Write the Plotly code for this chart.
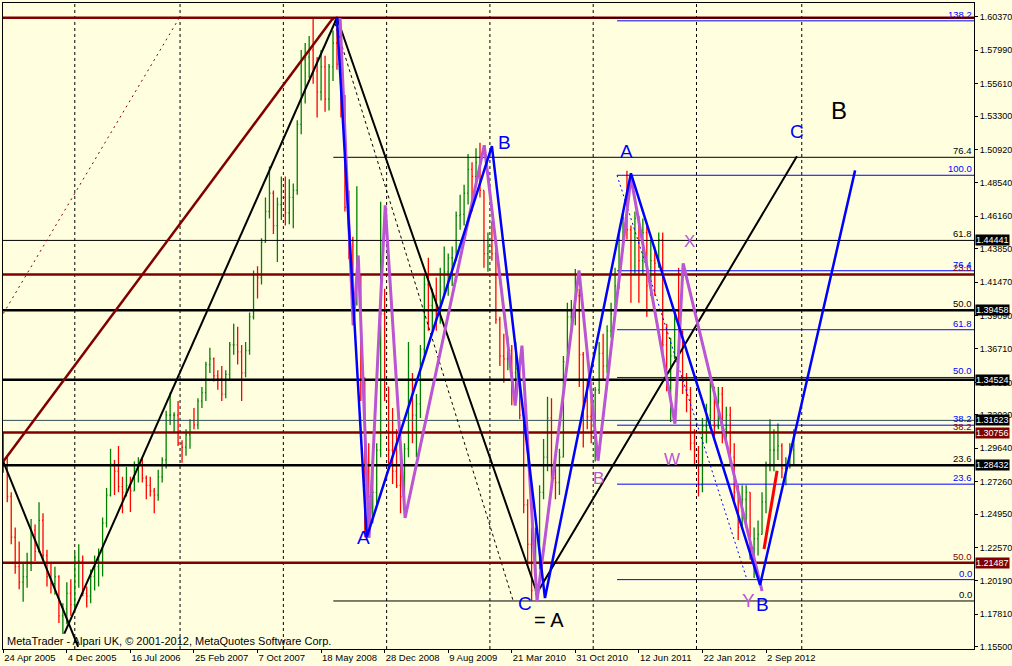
import plotly.graph_objects as go
import pandas as pd

# ---------------- price bars (EURUSD, two-week bars) ----------------
start_date = "2005-04-24"
bar_step = "14D"
first_open = 1.300
bar_high = [
    # 2005
    1.308, 1.290, 1.265, 1.240, 1.230, 1.215, 1.222, 1.246, 1.242, 1.258, 1.250, 1.224, 1.214, 1.212, 1.206, 1.186, 1.201, 1.203,
    # 2006
    1.222, 1.228, 1.220, 1.198, 1.210, 1.220, 1.225, 1.247, 1.268, 1.296, 1.288, 1.298, 1.276, 1.283, 1.276, 1.287, 1.290, 1.290, 1.277, 1.276, 1.268, 1.281, 1.290, 1.323, 1.336, 1.322,
    # 2007
    1.330, 1.302, 1.310, 1.317, 1.325, 1.332, 1.340, 1.358, 1.368, 1.361, 1.352, 1.355, 1.352, 1.372, 1.385, 1.383, 1.370, 1.372, 1.393, 1.423, 1.426, 1.446, 1.475, 1.497, 1.480, 1.475,
    # 2008
    1.490, 1.490, 1.488, 1.485, 1.530, 1.580, 1.585, 1.590, 1.603, 1.575, 1.580, 1.576, 1.570, 1.594, 1.604, 1.578, 1.548, 1.480, 1.447, 1.483, 1.420, 1.347, 1.300, 1.283, 1.300, 1.472,
    # 2009
    1.410, 1.340, 1.325, 1.310, 1.290, 1.300, 1.372, 1.350, 1.335, 1.370, 1.420, 1.432, 1.410, 1.418, 1.425, 1.440, 1.435, 1.440, 1.465, 1.477, 1.484, 1.506, 1.500, 1.510, 1.514, 1.480,
    # 2010
    1.450, 1.458, 1.440, 1.390, 1.378, 1.376, 1.370, 1.372, 1.355, 1.325, 1.260, 1.240, 1.240, 1.270, 1.303, 1.333, 1.332, 1.290, 1.296, 1.362, 1.400, 1.402, 1.424, 1.410, 1.365, 1.345,
    # 2011
    1.340, 1.340, 1.372, 1.378, 1.384, 1.400, 1.425, 1.450, 1.465, 1.494, 1.455, 1.465, 1.462, 1.460, 1.455, 1.445, 1.440, 1.450, 1.450, 1.385, 1.375, 1.395, 1.425, 1.380, 1.350, 1.340,
    # 2012
    1.310, 1.298, 1.318, 1.328, 1.345, 1.340, 1.340, 1.340, 1.326, 1.326, 1.300, 1.270, 1.270, 1.270, 1.265, 1.240, 1.245, 1.265, 1.287, 1.317, 1.310, 1.314, 1.300, 1.290, 1.300, 1.310,
]
bar_low = [
    1.279, 1.258, 1.228, 1.207, 1.196, 1.187, 1.197, 1.209, 1.216, 1.222, 1.216, 1.198, 1.193, 1.192, 1.172, 1.164, 1.171, 1.177,
    1.181, 1.197, 1.191, 1.183, 1.186, 1.195, 1.198, 1.205, 1.240, 1.262, 1.263, 1.265, 1.250, 1.262, 1.251, 1.266, 1.272, 1.272, 1.260, 1.262, 1.250, 1.259, 1.272, 1.282, 1.313, 1.308,
    1.298, 1.286, 1.291, 1.296, 1.310, 1.310, 1.325, 1.330, 1.350, 1.344, 1.338, 1.330, 1.332, 1.345, 1.363, 1.356, 1.330, 1.347, 1.363, 1.388, 1.403, 1.413, 1.443, 1.460, 1.449, 1.429,
    1.459, 1.455, 1.456, 1.453, 1.477, 1.520, 1.542, 1.560, 1.556, 1.532, 1.544, 1.536, 1.537, 1.558, 1.566, 1.532, 1.465, 1.431, 1.390, 1.398, 1.330, 1.233, 1.245, 1.243, 1.256, 1.290,
    1.330, 1.285, 1.271, 1.268, 1.250, 1.256, 1.290, 1.300, 1.290, 1.318, 1.360, 1.380, 1.380, 1.380, 1.385, 1.406, 1.405, 1.412, 1.430, 1.452, 1.455, 1.470, 1.465, 1.485, 1.475, 1.425,
    1.422, 1.430, 1.385, 1.355, 1.343, 1.352, 1.327, 1.331, 1.317, 1.250, 1.213, 1.188, 1.192, 1.210, 1.260, 1.280, 1.270, 1.260, 1.263, 1.290, 1.355, 1.375, 1.384, 1.340, 1.297, 1.310,
    1.300, 1.287, 1.335, 1.345, 1.350, 1.375, 1.390, 1.410, 1.437, 1.445, 1.400, 1.420, 1.400, 1.420, 1.390, 1.405, 1.405, 1.425, 1.360, 1.337, 1.315, 1.360, 1.365, 1.335, 1.322, 1.295,
    1.285, 1.262, 1.265, 1.300, 1.310, 1.305, 1.310, 1.300, 1.300, 1.285, 1.258, 1.231, 1.240, 1.240, 1.217, 1.204, 1.220, 1.235, 1.250, 1.280, 1.280, 1.288, 1.275, 1.270, 1.282, 1.285,
]
bar_close = [
    1.284, 1.262, 1.233, 1.212, 1.201, 1.205, 1.214, 1.238, 1.223, 1.245, 1.220, 1.205, 1.200, 1.205, 1.177, 1.182, 1.193, 1.185,
    1.216, 1.216, 1.193, 1.191, 1.205, 1.212, 1.222, 1.243, 1.263, 1.285, 1.280, 1.269, 1.265, 1.270, 1.266, 1.282, 1.288, 1.275, 1.270, 1.266, 1.263, 1.276, 1.288, 1.320, 1.320, 1.320,
    1.300, 1.297, 1.306, 1.316, 1.313, 1.330, 1.336, 1.356, 1.360, 1.348, 1.346, 1.335, 1.349, 1.370, 1.370, 1.365, 1.350, 1.366, 1.390, 1.420, 1.418, 1.443, 1.465, 1.478, 1.455, 1.470,
    1.475, 1.464, 1.475, 1.480, 1.527, 1.573, 1.575, 1.580, 1.565, 1.550, 1.568, 1.545, 1.568, 1.585, 1.570, 1.545, 1.468, 1.445, 1.400, 1.420, 1.345, 1.270, 1.262, 1.265, 1.295, 1.392,
    1.340, 1.295, 1.280, 1.270, 1.262, 1.296, 1.330, 1.320, 1.328, 1.367, 1.413, 1.398, 1.405, 1.392, 1.420, 1.422, 1.432, 1.432, 1.462, 1.463, 1.478, 1.495, 1.490, 1.500, 1.480, 1.435,
    1.440, 1.435, 1.388, 1.362, 1.360, 1.366, 1.350, 1.353, 1.320, 1.256, 1.228, 1.195, 1.235, 1.265, 1.290, 1.318, 1.275, 1.272, 1.290, 1.358, 1.390, 1.390, 1.405, 1.363, 1.330, 1.319,
    1.305, 1.338, 1.364, 1.355, 1.380, 1.392, 1.412, 1.445, 1.460, 1.452, 1.420, 1.460, 1.430, 1.450, 1.412, 1.430, 1.428, 1.445, 1.370, 1.350, 1.362, 1.388, 1.380, 1.340, 1.338, 1.300,
    1.295, 1.270, 1.312, 1.320, 1.340, 1.312, 1.335, 1.310, 1.320, 1.290, 1.265, 1.240, 1.260, 1.265, 1.225, 1.232, 1.235, 1.258, 1.285, 1.295, 1.295, 1.298, 1.282, 1.285, 1.295, 1.305,
]

# ---------------- axes ----------------
x_start, x_end = "2005-04-23", "2014-09-05"
y_min, y_max = 1.1534, 1.6135
date_ticks = ["2005-04-24", "2005-12-04", "2006-07-16", "2007-02-25", "2007-10-07", "2008-05-18",
              "2008-12-28", "2009-08-09", "2010-03-21", "2010-10-31", "2011-06-12", "2012-01-22", "2012-09-02"]
date_labels = ["24 Apr 2005", "4 Dec 2005", "16 Jul 2006", "25 Feb 2007", "7 Oct 2007", "18 May 2008",
               "28 Dec 2008", "9 Aug 2009", "21 Mar 2010", "31 Oct 2010", "12 Jun 2011", "22 Jan 2012", "2 Sep 2012"]
price_ticks = [1.60370, 1.57990, 1.55610, 1.53300, 1.50920, 1.48540, 1.46160, 1.43850, 1.41470, 1.39090,
               1.36710, 1.34330, 1.32020, 1.29640, 1.27260, 1.24950, 1.22570, 1.20190, 1.17810, 1.15500]
year_separators = ["2006-01-01", "2007-01-07", "2008-01-06", "2009-01-04", "2010-01-03",
                   "2011-01-02", "2012-01-01", "2013-01-06"]

# ---------------- horizontal lines (price, colour, width) ----------------
full_lines_price = [1.6030, 1.4202, 1.30756, 1.21487, 1.44441, 1.39458, 1.34524, 1.28432, 1.31623]
full_lines_color = ["#800000", "#800000", "#800000", "#800000", "#000000", "#000000", "#000000", "#000000", "#2F4F4F"]
full_lines_width = [2.5, 2.5, 2.5, 2.5, 1, 2.5, 2.5, 2.5, 1]

black_fib_start = "2008-06-30"
black_fib_prices = [1.6030, 1.5036, 1.1876]
black_fib_diag_dates = ["2008-06-30", "2010-03-26"]
black_fib_diag_prices = [1.6030, 1.1876]

blue_fib_start = "2011-03-27"
blue_fib_prices = [1.6008, 1.4908, 1.4228, 1.3808, 1.3468, 1.3128, 1.2708, 1.2028]
blue_fib_labels = ["138.2", "100.0", "76.4", "61.8", "50.0", "38.2", "23.6", "0.0"]
blue_fib_diag_dates = ["2011-03-27", "2012-06-27"]
blue_fib_diag_prices = [1.4908, 1.2028]

black_fib_label_prices = [1.5036, 1.44441, 1.39458, 1.28432, 1.1876]
black_fib_labels = ["76.4", "61.8", "50.0", "23.6", "0.0"]
maroon_fib_label_prices = [1.4202, 1.30756, 1.21487]
maroon_fib_labels = ["23.6", "38.2", "50.0"]

maroon_diag_dates = ["2005-04-24", "2007-01-04"]
maroon_diag_prices = [1.3923, 1.6028]

# price boxes on the axis
box_prices = [1.44441, 1.39458, 1.34524, 1.31623, 1.30756, 1.28432, 1.21487]
box_colors = ["#000000", "#000000", "#000000", "#000000", "#800000", "#000000", "#800000"]

# ---------------- wave lines ----------------
black_down1_dates = ["2005-04-24", "2006-01-13"]
black_down1_prices = [1.2869, 1.1550]
black_up1_dates = ["2005-11-25", "2008-07-13"]
black_up1_prices = [1.1643, 1.6030]
black_zz_dates = ["2008-07-13", "2010-06-18", "2012-12-20"]
black_zz_prices = [1.6030, 1.1933, 1.5044]
maroon_up_dates = ["2005-04-24", "2008-06-30"]
maroon_up_prices = [1.2869, 1.6030]

purple_dates = ["2008-07-24", "2008-09-08", "2008-09-26", "2008-11-03", "2008-12-30", "2009-03-10",
                "2009-12-14", "2010-04-02", "2010-04-26", "2010-06-18", "2010-11-13", "2011-01-19",
                "2011-05-15", "2011-10-17", "2011-11-15", "2012-08-19"]
purple_prices = [1.6028, 1.3838, 1.4337, 1.2325, 1.4694, 1.2468,
                 1.5122, 1.3267, 1.3695, 1.1876, 1.4230, 1.2875,
                 1.4893, 1.3139, 1.4280, 1.1947]

blue_dates = ["2008-07-13", "2008-10-26", "2010-01-10", "2010-07-16", "2011-05-15", "2012-08-12", "2013-07-13"]
blue_prices = [1.6030, 1.2330, 1.5115, 1.1897, 1.4922, 1.1990, 1.4943]

red_dates = ["2012-08-26", "2012-10-11"]
red_prices = [1.2247, 1.2803]

# wave letters: (text, date, price, colour, size)
wave_text = ["A", "B", "C", "= A", "A", "X", "W", "B", "Y", "B", "C", "B"]
wave_date = ["2008-10-13", "2010-02-22", "2010-05-07", "2010-07-31", "2011-05-01", "2011-12-09",
             "2011-10-07", "2011-01-19", "2012-07-04", "2012-08-22", "2012-12-20", "2013-05-17"]
wave_price = [1.2325, 1.5143, 1.1861, 1.1740, 1.5079, 1.4437, 1.2882, 1.2745, 1.1876, 1.1848, 1.5222, 1.5371]
wave_color = ["#0000FF", "#0000FF", "#0000FF", "#000000", "#0000FF", "#BA55D3",
              "#BA55D3", "#BA55D3", "#BA55D3", "#0000FF", "#0000FF", "#000000"]
wave_size = [19, 19, 19, 20, 19, 17, 17, 17, 19, 19, 19, 24]

copyright_text = "MetaTrader - Alpari UK, © 2001-2012, MetaQuotes Software Corp."

# ---------------- build ----------------
FONT = "Liberation Sans"
bar_dates = pd.date_range(start_date, periods=len(bar_close), freq=bar_step)
bar_open = [first_open] + bar_close[:-1]

fig = go.Figure()
fig.add_trace(go.Ohlc(
    x=bar_dates, open=bar_open, high=bar_high, low=bar_low, close=bar_close,
    increasing=dict(line=dict(color="#008000", width=1.3)),
    decreasing=dict(line=dict(color="#FF0000", width=1.3)),
    tickwidth=0.25, hoverinfo="skip", showlegend=False))


def line(xs, ys, color, width, dash=None):
    fig.add_trace(go.Scatter(x=xs, y=ys, mode="lines", hoverinfo="skip", showlegend=False,
                             line=dict(color=color, width=width, dash=dash)))


for p, c, w in zip(full_lines_price, full_lines_color, full_lines_width):
    line([x_start, x_end], [p, p], c, w)
for p in black_fib_prices:
    line([black_fib_start, x_end], [p, p], "#000000", 1)
for p in blue_fib_prices:
    line([blue_fib_start, x_end], [p, p], "#0000FF", 1)

line(maroon_diag_dates, maroon_diag_prices, "#800000", 1, "2px,4px")
line(black_fib_diag_dates, black_fib_diag_prices, "#000000", 1, "3px,3px")
line(blue_fib_diag_dates, blue_fib_diag_prices, "#0000FF", 1, "2px,3px")

line(black_down1_dates, black_down1_prices, "#000000", 2)
line(black_up1_dates, black_up1_prices, "#000000", 2)
line(black_zz_dates, black_zz_prices, "#000000", 2)
line(maroon_up_dates, maroon_up_prices, "#800000", 2.5)
line(purple_dates, purple_prices, "#BA55D3", 3)
line(blue_dates, blue_prices, "#0000FF", 2.5)
line(red_dates, red_prices, "#FF0000", 3)

shapes = []
for d in year_separators:
    shapes.append(dict(type="line", xref="x", yref="paper", x0=d, x1=d, y0=0, y1=1, layer="below",
                       line=dict(color="#000000", width=1, dash="3px,3px")))

annotations = []
for txt, p in zip(maroon_fib_labels, maroon_fib_label_prices):
    annotations.append(dict(xref="paper", x=1, xanchor="right", xshift=-1, yref="y", y=p, yanchor="bottom",
                            text=txt, showarrow=False, borderpad=0, font=dict(family=FONT, size=9.5, color="#800000")))
for txt, p in zip(blue_fib_labels, blue_fib_prices):
    annotations.append(dict(xref="paper", x=1, xanchor="right", xshift=-1, yref="y", y=p, yanchor="bottom",
                            text=txt, showarrow=False, borderpad=0, font=dict(family=FONT, size=9.5, color="#0000FF")))
for txt, p in zip(black_fib_labels, black_fib_label_prices):
    annotations.append(dict(xref="paper", x=1, xanchor="right", xshift=-1, yref="y", y=p, yanchor="bottom",
                            text=txt, showarrow=False, borderpad=0, font=dict(family=FONT, size=9.5, color="#000000")))
for p, c in zip(box_prices, box_colors):
    annotations.append(dict(xref="paper", x=1, xanchor="left", xshift=1, yref="y", y=p, yanchor="middle",
                            text=f"{p:.5f}", showarrow=False, bgcolor=c, borderpad=0,
                            font=dict(family=FONT, size=9, color="#FFFFFF")))
for t, d, p, c, s in zip(wave_text, wave_date, wave_price, wave_color, wave_size):
    annotations.append(dict(xref="x", x=d, yref="y", y=p, text=t, showarrow=False,
                            font=dict(family=FONT, size=s, color=c)))
annotations.append(dict(xref="paper", x=0, xanchor="left", xshift=2, yref="paper", y=0, yanchor="bottom",
                        yshift=0, text=copyright_text, showarrow=False,
                        font=dict(family=FONT, size=11, color="#000000")))

fig.update_layout(
    width=1012, height=666,
    margin=dict(l=3, r=38, t=3, b=17, autoexpand=False),
    paper_bgcolor="#FFFFE0", plot_bgcolor="#FFFFE0",
    font=dict(family=FONT, size=9, color="#000000"),
    showlegend=False, shapes=shapes, annotations=annotations,
    xaxis=dict(type="date", range=[x_start, x_end], tickvals=date_ticks, ticktext=date_labels,
               ticks="outside", ticklen=3, tickcolor="#000000", ticklabelposition="outside right",
               tickangle=0, automargin=False,
               showgrid=False, zeroline=False, showline=True, linecolor="#000000", linewidth=1, mirror=True,
               rangeslider=dict(visible=False), tickfont=dict(family=FONT, size=9.5)),
    yaxis=dict(range=[y_min, y_max], side="right", tickvals=price_ticks,
               ticktext=[f"{v:.5f}" for v in price_ticks], automargin=False,
               ticks="outside", ticklen=3, tickcolor="#000000", showgrid=False, zeroline=False,
               showline=True, linecolor="#000000", linewidth=1, mirror=True,
               tickfont=dict(family=FONT, size=9)),
)

fig.write_html("out.html", config={"displayModeBar": False},
               post_script="document.body.style.margin='0';document.body.style.background='#FFFFE0';")
